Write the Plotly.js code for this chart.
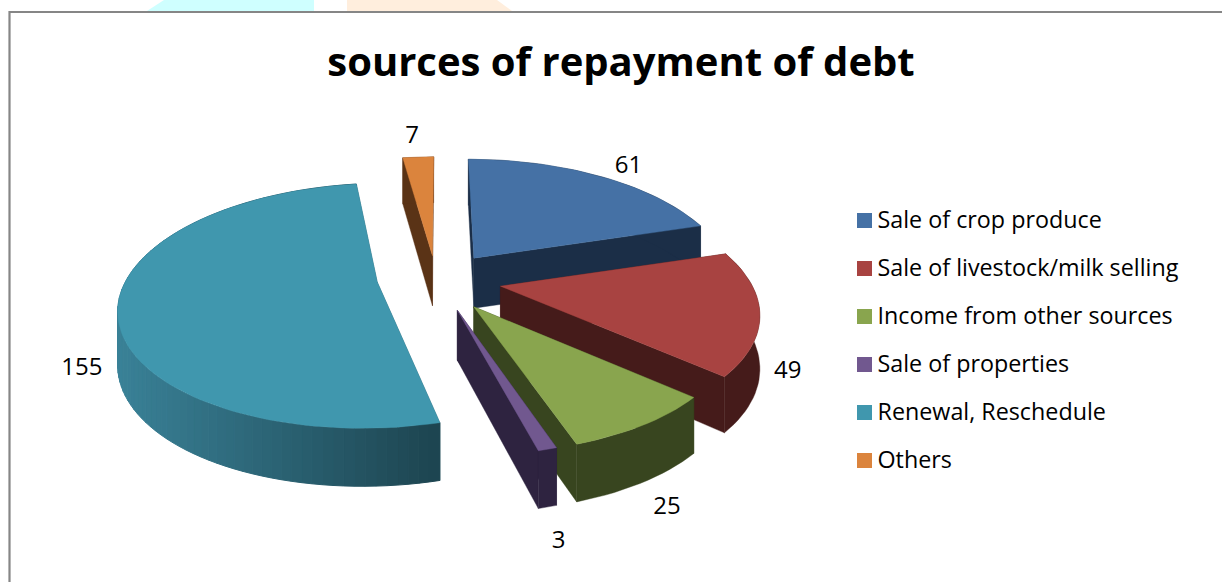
<!DOCTYPE html>
<html>
<head>
<meta charset="utf-8">
<script src="https://cdn.plot.ly/plotly-3.0.1.min.js"></script>
<style>html,body{margin:0;padding:0;background:#fff}#chart{width:1222px;height:582px}</style>
</head>
<body>
<div id="chart"></div>
<script>
const categories = ["Sale of crop produce", "Sale of livestock/milk selling", "Income from other sources", "Sale of properties", "Renewal, Reschedule", "Others"];
const values = [61, 49, 25, 3, 155, 7];
const topColors = ["#4571A5", "#A84341", "#89A54E", "#71588F", "#4097AE", "#DB843D"];
const wallColors = ["#1B2E47", "#451B1A", "#38451F", "#2E2340", "#2A6070", "#5A3316"];

// Projection of the tilted, exploded pie onto the pixel-sized axes.
const centre = {x: 440, y: 280};
const radiusX = 252, radiusY = 118, perspective = 0.193;
const explode = [0.22, 0.24, 0.24, 0.24, 0.26, 0.24];
const explodeShift = [[0, -1], [0, 0], [0, 3], [0, 3], [3, -4], [-3, 4]];
const drawOrder = [5, 4, 0, 1, 2, 3];
const labelNudge = [[29, -9], [28, 59], [23, 83], [11, 93], [-36, 63], [-6, -20]];
const rad = d => d * Math.PI / 180;
const total = values.reduce((a, b) => a + b, 0);

// Converging perspective: points nearer the viewer spread away from the centre line.
function project(deg, apex) {
  const X = Math.sin(rad(deg)), Y = Math.cos(rad(deg));
  const p = 1 / (1 + perspective * Y);
  return {
    x: apex.x + X * p * radiusX + (apex.x - centre.x) * (p - 1),
    y: apex.y - Y * p * radiusY,
    depth: 52 - 6 * Y
  };
}
function filled(xs, ys, color, width) {
  return {
    type: "scatter", mode: "lines", x: xs, y: ys, fill: "toself", fillcolor: color,
    line: {color: color, width: width}, hoverinfo: "skip", showlegend: false
  };
}
function mix(a, b, t) {
  const c = (s, i) => parseInt(s.substr(1 + i * 2, 2), 16);
  const v = [0, 1, 2].map(i => Math.round(c(a, i) + (c(b, i) - c(a, i)) * t));
  return `rgb(${v[0]},${v[1]},${v[2]})`;
}

// Angular span of every slice, clockwise from twelve o'clock.
let running = 0;
const slices = values.map((v, i) => {
  const start = running, end = running + v / total * 360;
  running = end;
  const mid = (start + end) / 2;
  const apex = {
    x: centre.x + explode[i] * Math.sin(rad(mid)) * 258 + explodeShift[i][0],
    y: centre.y - explode[i] * Math.cos(rad(mid)) * radiusY + explodeShift[i][1]
  };
  return {i, start, end, mid, apex};
});

const traces = [];
drawOrder.forEach(k => {
  const s = slices[k];
  const wall = wallColors[k];
  const arc = [];
  const steps = Math.max(2, Math.ceil((s.end - s.start) / 2));
  for (let j = 0; j <= steps; j++) arc.push(project(s.start + (s.end - s.start) * j / steps, s.apex));
  const apexDepth = 50;

  // Flat radial walls on both cut edges of the slice.
  [arc[0], arc[arc.length - 1]].forEach(e => {
    traces.push(filled(
      [s.apex.x, e.x, e.x, s.apex.x, s.apex.x],
      [s.apex.y, e.y, e.y + e.depth, s.apex.y + apexDepth, s.apex.y],
      wall, 0.4));
  });

  // Outer rim: one piece, except the big slice, which shades from left to right in strips.
  if (k === 4) {
    for (let j = 0; j < steps; j++) {
      const a = arc[j], b = arc[j + 1];
      const color = mix("#3A8298", "#1D4551", Math.min(1, Math.max(0, (a.x - 115) / 324)));
      traces.push(filled([a.x, b.x, b.x, a.x, a.x], [a.y, b.y, b.y + b.depth, a.y + a.depth, a.y], color, 1));
    }
  } else {
    const down = arc.slice().reverse();
    traces.push(filled(
      [...arc.map(p => p.x), ...down.map(p => p.x), arc[0].x],
      [...arc.map(p => p.y), ...down.map(p => p.y + p.depth), arc[0].y],
      wall, 0.4));
  }

  // Upper face.
  traces.push(filled(
    [s.apex.x, ...arc.map(p => p.x), s.apex.x],
    [s.apex.y, ...arc.map(p => p.y), s.apex.y],
    topColors[k], 0.4));
});

// Value labels sit just outside the rim of their slice.
const labelPoints = slices.map((s, i) => {
  const p = project(s.mid, s.apex);
  return {x: p.x + labelNudge[i][0], y: p.y + labelNudge[i][1]};
});
traces.push({
  type: "scatter", mode: "text", x: labelPoints.map(p => p.x), y: labelPoints.map(p => p.y),
  text: values.map(String), textposition: "middle center",
  textfont: {family: "Open Sans, sans-serif", size: 24, color: "#000"},
  hoverinfo: "skip", showlegend: false
});

// Key on the right.
const keyX = 864.5, keyTop = 220.5, keyStep = 48;
const keyY = categories.map((_, i) => keyTop + i * keyStep);
traces.push({
  type: "scatter", mode: "markers", x: categories.map(() => keyX), y: keyY,
  marker: {symbol: "square", size: 15, color: topColors, line: {width: 0}},
  hoverinfo: "skip", showlegend: false
});
traces.push({
  type: "scatter", mode: "text", x: categories.map(() => keyX + 13), y: keyY.map(y => y + 2),
  text: categories, textposition: "middle right",
  textfont: {family: "Open Sans, sans-serif", size: 23.3, color: "#000"},
  hoverinfo: "skip", showlegend: false
});

const layout = {
  width: 1222, height: 582, margin: {l: 0, r: 0, t: 0, b: 0},
  paper_bgcolor: "#fff", plot_bgcolor: "#fff", showlegend: false,
  title: {
    text: "<b>sources of repayment of debt</b>",
    font: {family: "Open Sans, sans-serif", size: 40, color: "#000"},
    x: 621 / 1222, xref: "paper", xanchor: "center", y: 1 - 62 / 582, yref: "paper", yanchor: "middle"
  },
  xaxis: {range: [0, 1222], visible: false, fixedrange: true},
  yaxis: {range: [582, 0], visible: false, fixedrange: true},
  shapes: [
    {type: "path", layer: "below", path: "M 147 11 L 164 0 L 314 0 L 314 11 Z", fillcolor: "#CFFFFF", line: {width: 0}},
    {type: "path", layer: "below", path: "M 347 11 L 347 0 L 497 0 L 512 11 Z", fillcolor: "#FFEEDD", line: {width: 0}},
    {type: "path", layer: "below", path: "M 9.5 582 L 9.5 12 L 1222 12", line: {color: "#868686", width: 2.2}}
  ]
};
Plotly.newPlot("chart", traces, layout, {displayModeBar: false, staticPlot: true});
</script>
</body>
</html>
